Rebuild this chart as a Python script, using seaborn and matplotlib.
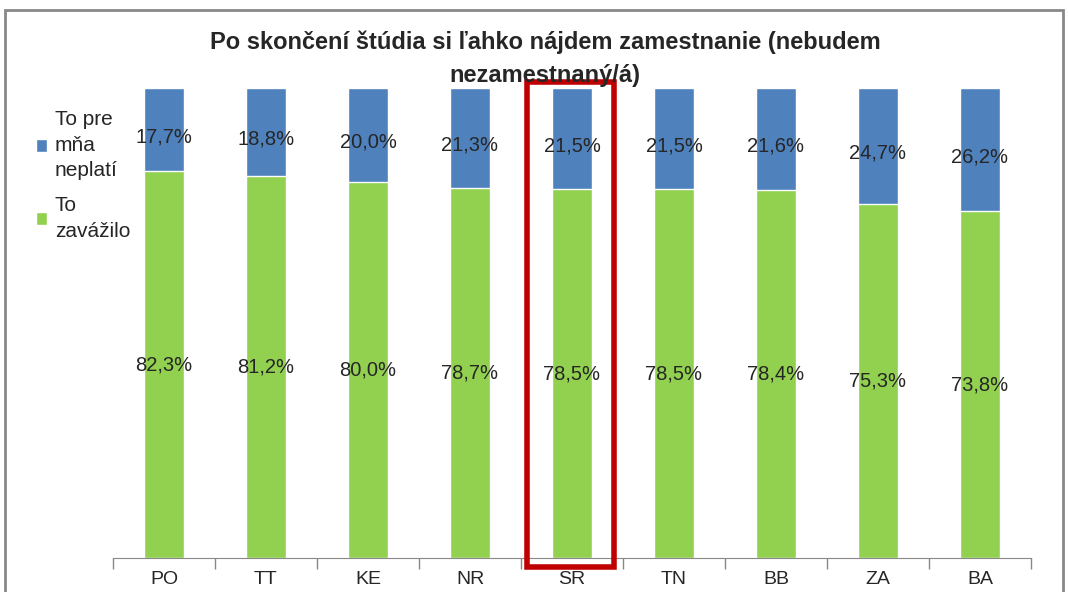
import matplotlib
matplotlib.use("Agg")
import matplotlib.pyplot as plt
from matplotlib.patches import Rectangle
import seaborn as sns
import pandas as pd

regions = ["PO", "TT", "KE", "NR", "SR", "TN", "BB", "ZA", "BA"]
zavazilo = [82.3, 81.2, 80.0, 78.7, 78.5, 78.5, 78.4, 75.3, 73.8]
neplati = [17.7, 18.8, 20.0, 21.3, 21.5, 21.5, 21.6, 24.7, 26.2]
highlight = "SR"

BLUE = "#4F81BD"
GREEN = "#92D050"
RED = "#C00000"

sns.set_style("white")
plt.rcParams["font.family"] = ["Liberation Sans", "DejaVu Sans"]

df = pd.DataFrame({"region": regions, "zavazilo": zavazilo, "neplati": neplati})
df["total"] = df["zavazilo"] + df["neplati"]

fig = plt.figure(figsize=(10.68, 5.92), dpi=100)
ax = fig.add_axes([113 / 1068, 1 - 558 / 592, (1031 - 113) / 1068, (558 - 88) / 592])

sns.barplot(data=df, x="region", y="total", color=BLUE, width=0.4, saturation=1, ax=ax,
            label="To pre\nmňa\nneplatí")
sns.barplot(data=df, x="region", y="zavazilo", color=GREEN, width=0.4, saturation=1, ax=ax,
            label="To\nzavážilo")

for i, (g, b) in enumerate(zip(zavazilo, neplati)):
    ax.text(i, g / 2, f"{g:.1f}%".replace(".", ","), ha="center", va="center", fontsize=14.5)
    ax.text(i, g + b / 2 - 1.5, f"{b:.1f}%".replace(".", ","), ha="center", va="center", fontsize=14.5)

ax.set_xlim(-0.5, len(regions) - 0.5)
ax.set_ylim(0, 100)
ax.set_yticks([])
ax.set_xlabel("")
ax.set_ylabel("")
for s in ["top", "right", "left"]:
    ax.spines[s].set_visible(False)
ax.spines["bottom"].set_color("#888888")
ax.set_xticks([i - 0.5 for i in range(len(regions) + 1)])
ax.set_xticklabels([])
ax.tick_params(axis="x", which="major", bottom=True, length=8, width=1, color="#888888",
               direction="out")
ax.set_xticks(range(len(regions)), minor=True)
ax.set_xticklabels(regions, minor=True, fontsize=14)
ax.tick_params(axis="x", which="minor", bottom=True, length=0, pad=9)

# red frame around the highlighted region
hi = regions.index(highlight)
ax.add_patch(Rectangle((hi - 0.44, -2.0), 0.85, 103.3, fill=False, edgecolor=RED,
                       linewidth=4, clip_on=False, zorder=5))

handles, labels = ax.get_legend_handles_labels()
leg = ax.legend(handles, labels, loc="upper left", bbox_to_anchor=(36 / 1068, 1 - 110 / 592),
                bbox_transform=fig.transFigure, frameon=False, fontsize=15,
                handlelength=0.55, handleheight=0.55, handletextpad=0.35, labelspacing=0.75,
                borderaxespad=0, borderpad=0)
for t in leg.get_texts():
    t.set_linespacing(1.45)

fig.suptitle("Po skončení štúdia si ľahko nájdem zamestnanie (nebudem\nnezamestnaný/á)",
             x=545 / 1068, y=1 - 31 / 592, fontsize=17, fontweight="bold", linespacing=1.55)

# outer chart frame
fig.patches.append(Rectangle((5 / 1068, -0.05), 1058 / 1068, 1.05 - 10 / 592, fill=False,
                             edgecolor="#888888", linewidth=2, transform=fig.transFigure))

fig.savefig("out.png", dpi=100)
plt.close(fig)
